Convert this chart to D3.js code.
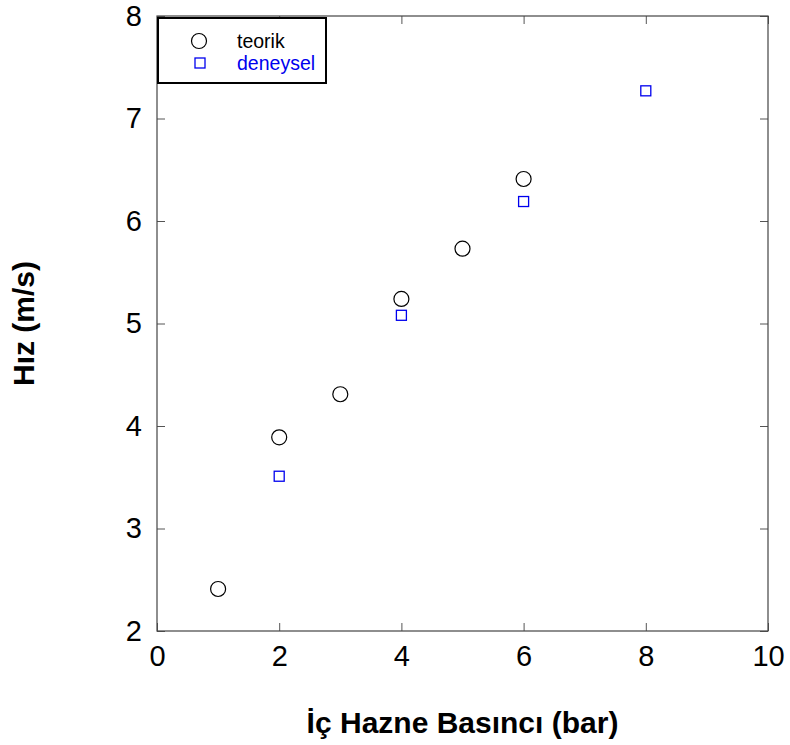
<!DOCTYPE html>
<html>
<head>
<meta charset="utf-8">
<script src="https://cdn.jsdelivr.net/npm/d3@7"></script>
<style>
  body { margin: 0; background: #fff; }
  text { font-family: "Liberation Sans", Arial, sans-serif; }
</style>
</head>
<body>
<svg id="chart" width="790" height="745"></svg>
<script>
// Chart data
const teorikX = [1, 2, 3, 4, 5, 6];
const teorikY = [2.41, 3.89, 4.31, 5.24, 5.73, 6.41];
const deneyselX = [2, 4, 6, 8];
const deneyselY = [3.51, 5.08, 6.19, 7.27];
const xTicks = [0, 2, 4, 6, 8, 10];
const yTicks = [2, 3, 4, 5, 6, 7, 8];

let svg = d3.select('#chart');
let pad = {l: 157, r: 22, t: 16, b: 114};
let W = 790 - pad.l - pad.r;
let H = 745 - pad.t - pad.b;

let x = d3.scaleLinear().domain([0, 10]).range([0, W]);
let y = d3.scaleLinear().domain([2, 8]).range([H, 0]);

let g = svg.append('g').attr('transform', `translate(${pad.l}, ${pad.t})`);

// axes with inward ticks on all four sides
function styleAxis(sel, showText){
    sel.select('.domain').remove();
    sel.selectAll('line').attr('stroke', '#555');
    sel.selectAll('text')
        .style('font-size', '29px')
        .attr('fill', '#000')
        .style('display', showText ? null : 'none');
}

g.append('g').attr('transform', `translate(0, ${H})`)
    .call(d3.axisBottom(x).tickValues(xTicks).tickFormat(d3.format('d')).tickSize(-8).tickPadding(14))
    .call(s => styleAxis(s, true));
g.append('g')
    .call(d3.axisTop(x).tickValues(xTicks).tickSize(-8))
    .call(s => styleAxis(s, false));
g.append('g')
    .call(d3.axisLeft(y).tickValues(yTicks).tickFormat(d3.format('d')).tickSize(-8).tickPadding(15))
    .call(s => styleAxis(s, true));
g.append('g').attr('transform', `translate(${W}, 0)`)
    .call(d3.axisRight(y).tickValues(yTicks).tickSize(-8))
    .call(s => styleAxis(s, false));

// frame
g.append('rect')
    .attr('width', W).attr('height', H)
    .attr('fill', 'none').attr('stroke', '#444').attr('stroke-width', 1.2);

// teorik circles
g.selectAll('.teorik')
    .data(teorikX.map((d, i) => [d, teorikY[i]]))
    .enter()
    .append('circle')
    .attr('class', 'teorik')
    .attr('cx', d => x(d[0]))
    .attr('cy', d => y(d[1]))
    .attr('r', 7.5)
    .attr('fill', 'none')
    .attr('stroke', '#000')
    .attr('stroke-width', 1.2);

// deneysel squares
g.selectAll('.deneysel')
    .data(deneyselX.map((d, i) => [d, deneyselY[i]]))
    .enter()
    .append('rect')
    .attr('class', 'deneysel')
    .attr('x', d => x(d[0]) - 5)
    .attr('y', d => y(d[1]) - 5)
    .attr('width', 10)
    .attr('height', 10)
    .attr('fill', 'none')
    .attr('stroke', '#0000ee')
    .attr('stroke-width', 1.3);

// legend
let leg = svg.append('g').attr('transform', 'translate(158, 18)');
leg.append('rect')
    .attr('width', 168).attr('height', 65)
    .attr('fill', '#fff').attr('stroke', '#000').attr('stroke-width', 2);
leg.append('circle')
    .attr('cx', 41).attr('cy', 23).attr('r', 7.5)
    .attr('fill', 'none').attr('stroke', '#000').attr('stroke-width', 1.2);
leg.append('text').attr('x', 79).attr('y', 30)
    .style('font-size', '19.5px').attr('fill', '#000').text('teorik');
leg.append('rect')
    .attr('x', 37).attr('y', 40).attr('width', 10).attr('height', 10)
    .attr('fill', 'none').attr('stroke', '#0000ee').attr('stroke-width', 1.3);
leg.append('text').attr('x', 79).attr('y', 52)
    .style('font-size', '19.5px').attr('fill', '#0000ee').text('deneysel');

// axis titles
svg.append('text')
    .attr('x', pad.l + W / 2).attr('y', 733)
    .attr('text-anchor', 'middle')
    .style('font-size', '30px').style('font-weight', 'bold')
    .text('İç Hazne Basıncı (bar)');
svg.append('text')
    .attr('transform', `translate(34, ${pad.t + H / 2}) rotate(-90)`)
    .attr('text-anchor', 'middle')
    .style('font-size', '30px').style('font-weight', 'bold')
    .text('Hız (m/s)');
</script>
</body>
</html>
